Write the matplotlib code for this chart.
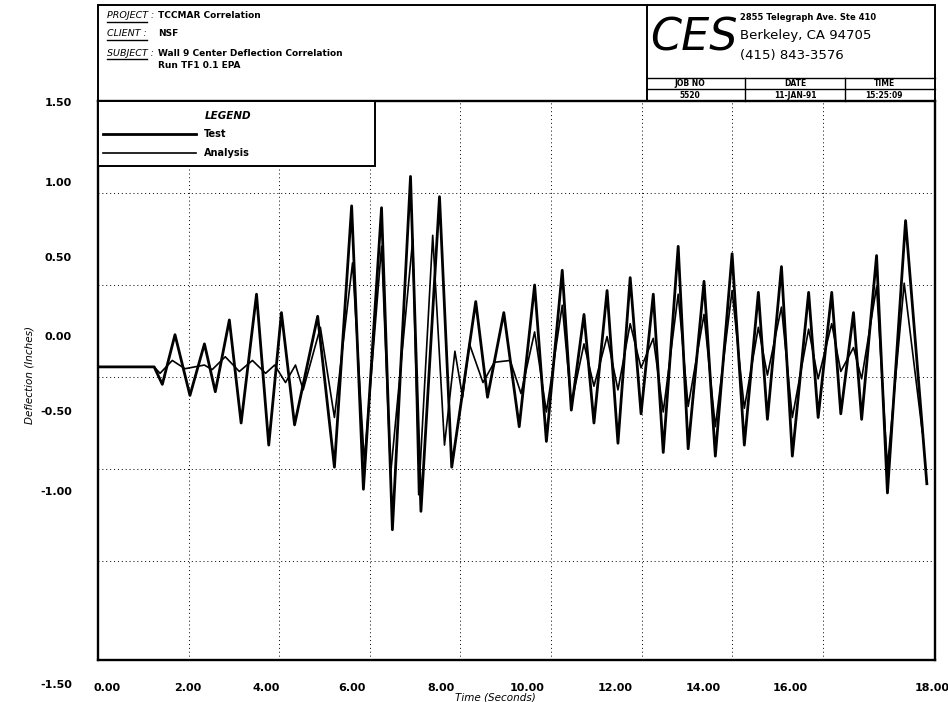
import numpy as np
import matplotlib
matplotlib.use('Agg')
import matplotlib.pyplot as plt
from matplotlib.lines import Line2D
from matplotlib.patches import Rectangle

plt.rcParams['font.family'] = ['DejaVu Sans']

# 读图得到的数据 (时间 s, 位移 in)
test_t = [0.0, 1.24, 1.42, 1.70, 2.03, 2.35, 2.59, 2.90, 3.16, 3.50, 3.77, 4.05,
          4.34, 4.85, 5.22, 5.60, 5.86, 6.26, 6.50, 6.90, 7.13, 7.54, 7.81, 8.34,
          8.60, 8.96, 9.30, 9.64, 9.90, 10.25, 10.45, 10.73, 10.95, 11.24, 11.48,
          11.75, 11.99, 12.26, 12.48, 12.81, 13.03, 13.38, 13.63, 14.00, 14.27,
          14.58, 14.78, 15.09, 15.33, 15.69, 15.90, 16.20, 16.40, 16.68, 16.86,
          17.19, 17.43, 17.83, 18.30]
test_v = [0.055, 0.055, -0.04, 0.23, -0.10, 0.18, -0.08, 0.31, -0.25, 0.45, -0.37, 0.35,
          -0.26, 0.33, -0.49, 0.93, -0.61, 0.92, -0.83, 1.09, -0.73, 0.98, -0.49, 0.41,
          -0.11, 0.35, -0.27, 0.50, -0.35, 0.58, -0.18, 0.34, -0.25, 0.47, -0.36,
          0.54, -0.20, 0.45, -0.41, 0.71, -0.39, 0.52, -0.43, 0.67, -0.37,
          0.46, -0.23, 0.60, -0.43, 0.46, -0.22, 0.46, -0.20, 0.35, -0.23,
          0.66, -0.63, 0.85, -0.58]

ana_t = [0.0, 1.24, 1.37, 1.64, 1.92, 2.35, 2.52, 2.81, 3.12, 3.41, 3.70, 3.90,
         4.14, 4.36, 4.53, 4.91, 5.22, 5.62, 5.88, 6.26, 6.46, 6.95, 7.08, 7.39,
         7.65, 7.88, 8.05, 8.20, 8.50, 8.75, 9.10, 9.34, 9.64, 9.90, 10.25, 10.45,
         10.73, 10.95, 11.24, 11.48, 11.75, 11.99, 12.26, 12.48, 12.81, 13.03,
         13.38, 13.63, 14.00, 14.27, 14.58, 14.78, 15.09, 15.33, 15.69, 15.90,
         16.20, 16.40, 16.68, 16.86, 17.19, 17.43, 17.80, 18.20]
ana_v = [0.055, 0.055, 0.02, 0.09, 0.045, 0.065, 0.04, 0.11, 0.03, 0.09, 0.02, 0.065,
         -0.03, 0.065, -0.07, 0.27, -0.22, 0.62, -0.46, 0.71, -0.53, 0.75, -0.64, 0.77,
         -0.37, 0.14, -0.11, 0.18, -0.03, 0.08, 0.09, -0.09, 0.245, -0.19, 0.39, -0.15,
         0.18, -0.05, 0.22, -0.07, 0.29, 0.05, 0.21, -0.19, 0.45, -0.16,
         0.34, -0.27, 0.47, -0.17, 0.27, 0.01, 0.38, -0.22, 0.26, -0.01,
         0.29, 0.03, 0.16, -0.01, 0.49, -0.49, 0.51, -0.30]

x_labels = ['0.00', '2.00', '4.00', '6.00', '8.00', '10.00', '12.00', '14.00', '16.00', '18.00']
y_labels = ['1.50', '1.00', '0.50', '0.00', '-0.50', '-1.00', '-1.50']
x_grid = [2, 4, 6, 8, 10, 12, 14, 16]
y_grid = [1.0, 0.5, 0.0, -0.5, -1.0]

W, H = 948, 702


def fx(x):
    return x / W


def fy(y):
    return 1 - y / H


fig = plt.figure(figsize=(W / 100, H / 100), dpi=100)
ax = fig.add_axes([fx(98), fy(660), fx(935) - fx(98), fy(101) - fy(660)])

ax.plot(ana_t, ana_v, color='k', lw=1.2)
ax.plot(test_t, test_v, color='k', lw=2.0)

ax.set_xlim(0, 18.48)
ax.set_ylim(-1.538, 1.5)
ax.set_xticks(x_grid)
ax.set_yticks(y_grid)
ax.tick_params(length=0, labelbottom=False, labelleft=False)
ax.grid(True, color='k', lw=0.7, linestyle=(0, (1, 3)))
for s in ax.spines.values():
    s.set_linewidth(1.7)

# 绘图仪的刻度文字位置与网格线并不对齐, 按原图摆放
x_lab_px = [107, 188, 266, 352, 441, 527, 615, 703, 790, 932]
y_lab_px = [103, 183, 258, 337, 412, 492, 685]
for lab, xx in zip(x_labels, x_lab_px):
    fig.text(fx(xx), fy(688), lab, fontsize=8, fontweight='bold', ha='center', va='center')
for lab, yy in zip(y_labels, y_lab_px):
    fig.text(fx(72), fy(yy), lab, fontsize=8, fontweight='bold', ha='right', va='center')
fig.text(fx(495), fy(697), 'Time (Seconds)', fontsize=7.5, fontstyle='italic',
         ha='center', va='center')
fig.text(fx(30), fy(375), 'Deflection (Inches)', fontsize=7.5, fontstyle='italic',
         rotation=90, ha='center', va='center')

# 图例框
ax.add_patch(Rectangle((fx(98), fy(166)), fx(375) - fx(98), fy(101) - fy(166),
                       transform=fig.transFigure, fill=True, fc='white', ec='k',
                       lw=1.4, zorder=5))
fig.text(fx(205), fy(116), 'LEGEND', fontsize=7.5, fontstyle='italic',
         fontweight='bold', va='center')
fig.add_artist(Line2D([fx(103), fx(196)], [fy(134), fy(134)], color='k', lw=2.0))
fig.add_artist(Line2D([fx(103), fx(196)], [fy(153), fy(153)], color='k', lw=1.2))
fig.text(fx(204), fy(134), 'Test', fontsize=7, fontweight='bold', va='center')
fig.text(fx(204), fy(153), 'Analysis', fontsize=7, fontweight='bold', va='center')

# 标题栏
fig.add_artist(Rectangle((fx(98), fy(101)), fx(935) - fx(98), fy(5) - fy(101),
                         transform=fig.transFigure, fill=False, ec='k', lw=1.4))
fig.add_artist(Line2D([fx(647), fx(647)], [fy(5), fy(101)], color='k', lw=1.4))
for yy in (78, 89):
    fig.add_artist(Line2D([fx(647), fx(935)], [fy(yy), fy(yy)], color='k', lw=1.0))
for xx in (745, 845):
    fig.add_artist(Line2D([fx(xx), fx(xx)], [fy(78), fy(101)], color='k', lw=1.0))

rows = [('PROJECT :', 'TCCMAR Correlation', 16),
        ('CLIENT :', 'NSF', 34),
        ('SUBJECT :', 'Wall 9 Center Deflection Correlation', 53)]
for lab, val, yy in rows:
    fig.text(fx(107), fy(yy), lab, fontsize=6.8, fontstyle='italic', va='center')
    fig.add_artist(Line2D([fx(107), fx(147)], [fy(yy + 6), fy(yy + 6)], color='k', lw=1.0))
    fig.text(fx(158), fy(yy), val, fontsize=6.5, fontweight='bold', va='center')
fig.text(fx(158), fy(65), 'Run TF1 0.1 EPA', fontsize=6.5, fontweight='bold', va='center')

fig.text(fx(650), fy(38), 'CES', fontsize=32, fontstyle='italic', fontweight='light',
         va='center')
fig.text(fx(740), fy(17), '2855 Telegraph Ave. Ste 410', fontsize=6, fontweight='bold',
         va='center')
fig.text(fx(740), fy(36), 'Berkeley, CA 94705', fontsize=9.5, va='center')
fig.text(fx(740), fy(55), '(415) 843-3576', fontsize=9.5, va='center')
for txt, xx in (('JOB NO', 690), ('DATE', 795), ('TIME', 884)):
    fig.text(fx(xx), fy(83.5), txt, fontsize=5.5, fontweight='bold', ha='center', va='center')
for txt, xx in (('5520', 690), ('11-JAN-91', 795), ('15:25:09', 884)):
    fig.text(fx(xx), fy(95), txt, fontsize=5.5, fontweight='bold', ha='center', va='center')

fig.savefig('out.png', dpi=100)
